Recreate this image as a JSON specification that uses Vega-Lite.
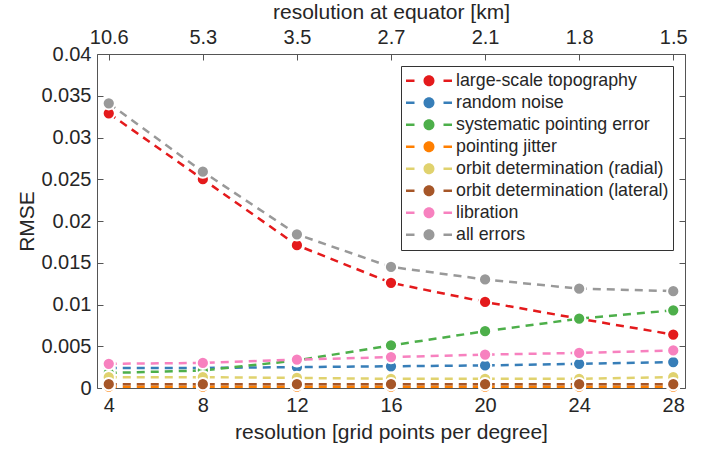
{
  "$schema": "https://vega.github.io/schema/vega-lite/v6.json",
  "width": 588,
  "height": 334,
  "autosize": {"type": "none"},
  "padding": {"left": 97, "top": 54, "right": 33, "bottom": 62},
  "background": "white",
  "config": {
    "view": {"stroke": null},
    "font": "Liberation Sans",
    "axis": {
      "grid": false,
      "labelFont": "Liberation Sans",
      "titleFont": "Liberation Sans",
      "labelFontSize": 20,
      "titleFontSize": 21,
      "titleFontWeight": "normal",
      "labelColor": "#262626",
      "titleColor": "#262626",
      "domainColor": "#555555",
      "tickColor": "#555555",
      "domainWidth": 1,
      "tickWidth": 1,
      "tickSize": -6,
      "labelFlush": false,
      "labelOverlap": false
    }
  },
  "data": {
    "values": [
      {"series": "large-scale topography", "res": 4, "rmse": 0.0329},
      {"series": "large-scale topography", "res": 8, "rmse": 0.0250},
      {"series": "large-scale topography", "res": 12, "rmse": 0.0171},
      {"series": "large-scale topography", "res": 16, "rmse": 0.0126},
      {"series": "large-scale topography", "res": 20, "rmse": 0.0103},
      {"series": "large-scale topography", "res": 24, "rmse": 0.0083},
      {"series": "large-scale topography", "res": 28, "rmse": 0.0064},
      {"series": "random noise", "res": 4, "rmse": 0.0024},
      {"series": "random noise", "res": 8, "rmse": 0.0024},
      {"series": "random noise", "res": 12, "rmse": 0.0025},
      {"series": "random noise", "res": 16, "rmse": 0.0026},
      {"series": "random noise", "res": 20, "rmse": 0.0027},
      {"series": "random noise", "res": 24, "rmse": 0.0029},
      {"series": "random noise", "res": 28, "rmse": 0.0031},
      {"series": "systematic pointing error", "res": 4, "rmse": 0.0018},
      {"series": "systematic pointing error", "res": 8, "rmse": 0.0021},
      {"series": "systematic pointing error", "res": 12, "rmse": 0.0033},
      {"series": "systematic pointing error", "res": 16, "rmse": 0.0051},
      {"series": "systematic pointing error", "res": 20, "rmse": 0.0068},
      {"series": "systematic pointing error", "res": 24, "rmse": 0.0083},
      {"series": "systematic pointing error", "res": 28, "rmse": 0.0093},
      {"series": "pointing jitter", "res": 4, "rmse": 0.00015},
      {"series": "pointing jitter", "res": 8, "rmse": 0.00015},
      {"series": "pointing jitter", "res": 12, "rmse": 0.00015},
      {"series": "pointing jitter", "res": 16, "rmse": 0.00015},
      {"series": "pointing jitter", "res": 20, "rmse": 0.00015},
      {"series": "pointing jitter", "res": 24, "rmse": 0.00015},
      {"series": "pointing jitter", "res": 28, "rmse": 0.00015},
      {"series": "orbit determination (radial)", "res": 4, "rmse": 0.0013},
      {"series": "orbit determination (radial)", "res": 8, "rmse": 0.0013},
      {"series": "orbit determination (radial)", "res": 12, "rmse": 0.0012},
      {"series": "orbit determination (radial)", "res": 16, "rmse": 0.0011},
      {"series": "orbit determination (radial)", "res": 20, "rmse": 0.0011},
      {"series": "orbit determination (radial)", "res": 24, "rmse": 0.0011},
      {"series": "orbit determination (radial)", "res": 28, "rmse": 0.0013},
      {"series": "orbit determination (lateral)", "res": 4, "rmse": 0.00045},
      {"series": "orbit determination (lateral)", "res": 8, "rmse": 0.00045},
      {"series": "orbit determination (lateral)", "res": 12, "rmse": 0.00045},
      {"series": "orbit determination (lateral)", "res": 16, "rmse": 0.00045},
      {"series": "orbit determination (lateral)", "res": 20, "rmse": 0.00045},
      {"series": "orbit determination (lateral)", "res": 24, "rmse": 0.00045},
      {"series": "orbit determination (lateral)", "res": 28, "rmse": 0.00045},
      {"series": "libration", "res": 4, "rmse": 0.0029},
      {"series": "libration", "res": 8, "rmse": 0.0030},
      {"series": "libration", "res": 12, "rmse": 0.0034},
      {"series": "libration", "res": 16, "rmse": 0.0037},
      {"series": "libration", "res": 20, "rmse": 0.0040},
      {"series": "libration", "res": 24, "rmse": 0.0042},
      {"series": "libration", "res": 28, "rmse": 0.0045},
      {"series": "all errors", "res": 4, "rmse": 0.0341},
      {"series": "all errors", "res": 8, "rmse": 0.0259},
      {"series": "all errors", "res": 12, "rmse": 0.0184},
      {"series": "all errors", "res": 16, "rmse": 0.0145},
      {"series": "all errors", "res": 20, "rmse": 0.0130},
      {"series": "all errors", "res": 24, "rmse": 0.0119},
      {"series": "all errors", "res": 28, "rmse": 0.0116}
    ]
  },
  "layer": [
    {
      "mark": {"type": "line", "strokeDash": [8, 6], "strokeWidth": 2.5},
      "encoding": {
        "x": {
          "field": "res", "type": "quantitative",
          "scale": {"domain": [3.5, 28.5], "nice": false, "zero": false},
          "axis": {"orient": "bottom", "values": [4, 8, 12, 16, 20, 24, 28], "title": "resolution [grid points per degree]", "labelPadding": 13, "titlePadding": 6}
        },
        "y": {
          "field": "rmse", "type": "quantitative",
          "scale": {"domain": [0, 0.04], "nice": false},
          "axis": {"orient": "left", "values": [0, 0.005, 0.01, 0.015, 0.02, 0.025, 0.03, 0.035, 0.04], "format": ".3~f", "title": "RMSE", "labelPadding": 12, "titlePadding": 3}
        },
        "color": {
          "field": "series", "type": "nominal",
          "scale": {
            "domain": ["large-scale topography", "random noise", "systematic pointing error", "pointing jitter", "orbit determination (radial)", "orbit determination (lateral)", "libration", "all errors"],
            "range": ["#e41a1c", "#377eb8", "#4daf4a", "#ff7f00", "#e0d26e", "#a65628", "#f781bf", "#999999"]
          },
          "legend": {
            "title": null,
            "orient": "top-right",
            "offset": 12,
            "padding": 4,
            "fillColor": "white",
            "strokeColor": "#333333",
            "symbolType": "M-2.3,-0.13H-1.45V0.13H-2.3Z M1.45,-0.13H2.3V0.13H1.45Z M0.55,0A0.55,0.55,0,1,1,-0.55,0A0.55,0.55,0,1,1,0.55,0Z",
            "symbolSize": 400,
            "symbolStrokeWidth": 0,
            "symbolOffset": 14,
            "labelOffset": 17,
            "labelFont": "Liberation Sans",
            "labelFontSize": 17.8,
            "labelColor": "#262626",
            "labelLimit": 400,
            "clipHeight": 21.5,
            "rowPadding": 0
          }
        }
      }
    },
    {
      "mark": {"type": "circle", "size": 150, "stroke": "white", "strokeWidth": 2, "opacity": 1},
      "encoding": {
        "x": {
          "field": "res", "type": "quantitative",
          "axis": {"orient": "top", "values": [4, 8, 12, 16, 20, 24, 28], "title": "resolution at equator [km]", "labelPadding": 12.5, "titlePadding": 5,
            "labelExpr": "datum.value == 4 ? '10.6' : datum.value == 8 ? '5.3' : datum.value == 12 ? '3.5' : datum.value == 16 ? '2.7' : datum.value == 20 ? '2.1' : datum.value == 24 ? '1.8' : '1.5'"}
        },
        "y": {
          "field": "rmse", "type": "quantitative",
          "axis": {"orient": "right", "values": [0, 0.005, 0.01, 0.015, 0.02, 0.025, 0.03, 0.035, 0.04], "labels": false, "title": null}
        },
        "color": {"field": "series", "type": "nominal"}
      }
    }
  ],
  "resolve": {"axis": {"x": "independent", "y": "independent"}}
}
